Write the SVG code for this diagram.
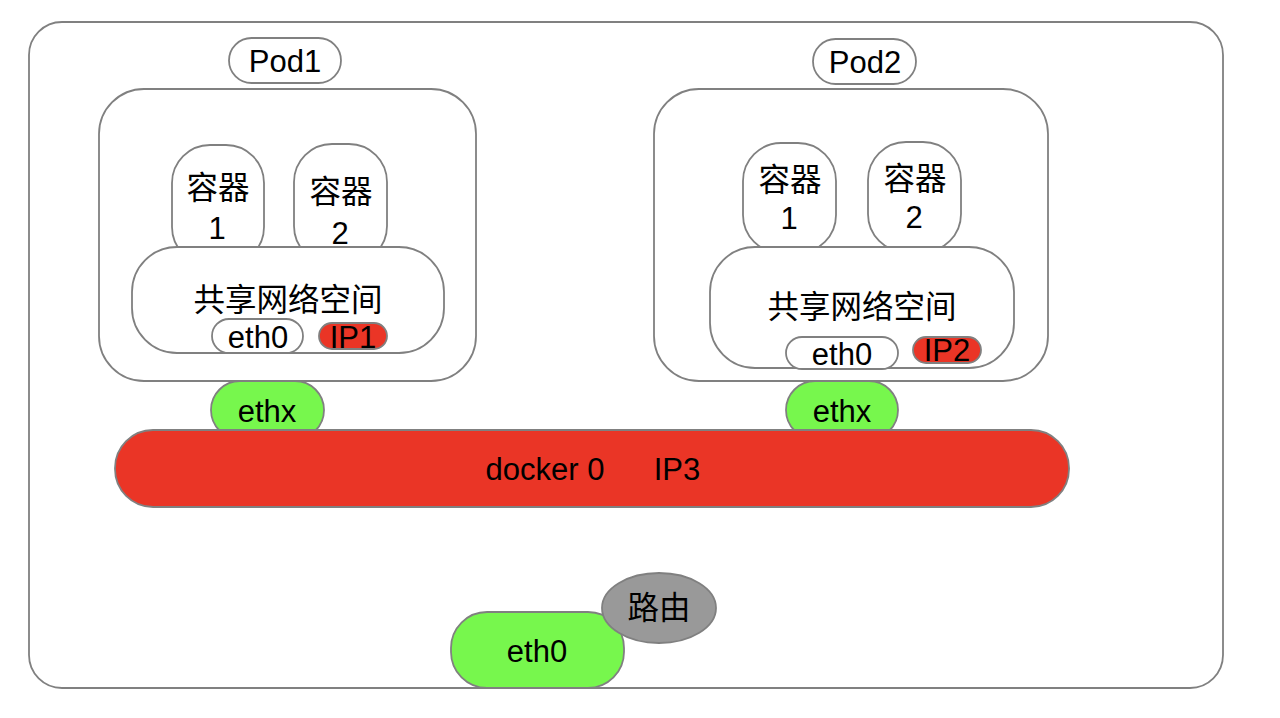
<svg xmlns="http://www.w3.org/2000/svg" width="1280" height="718" viewBox="0 0 1280 718">
<style>
.b{fill:#fff;stroke:#808080;stroke-width:1.8}
.r{fill:#EA3526;stroke:#808080;stroke-width:1.8}
.g{fill:#77F74D;stroke:#808080;stroke-width:1.8}
.gr{fill:#999999;stroke:#808080;stroke-width:1.8}
text{font-family:"Liberation Sans","Noto Sans CJK SC",sans-serif;font-size:31px;fill:#000;text-anchor:middle;dominant-baseline:central}
.cn{font-size:31.5px}
</style>
<rect width="1280" height="718" fill="#fff"/>
<g id="host"><rect class="b" x="29" y="22" width="1194" height="666" rx="33"/></g>
<g id="connectors"></g>
<g id="pod1-label"><rect class="b" x="229" y="38" width="112" height="45" rx="22.5"/><text x="285" y="61">Pod1</text></g>
<g id="pod1">
<rect class="b" x="99" y="89" width="377" height="292" rx="45"/>
<g id="p1c1"><rect class="b" x="172" y="145" width="92" height="120" rx="38"/><text class="cn" x="218" y="188">容器</text><text x="217" y="228">1</text></g>
<g id="p1c2"><rect class="b" x="294" y="144" width="93" height="120" rx="38"/><text class="cn" x="341" y="192">容器</text><text x="340" y="233">2</text></g>
<g id="p1ns"><rect class="b" x="132" y="247" width="312" height="106" rx="45"/><text class="cn" x="288" y="300">共享网络空间</text></g>
<g id="p1eth0"><rect class="b" x="212" y="319" width="91" height="34" rx="17"/><text x="258" y="337">eth0</text></g>
<g id="p1ip"><rect class="r" x="319" y="323" width="68" height="26" rx="13"/><text x="353" y="337">IP1</text></g>
</g>
<g id="pod2-label"><rect class="b" x="813" y="39" width="103" height="45" rx="22.5"/><text x="865" y="62">Pod2</text></g>
<g id="pod2">
<rect class="b" x="654" y="89" width="394" height="292" rx="45"/>
<g id="p2c1"><rect class="b" x="743" y="143" width="93" height="110" rx="38"/><text class="cn" x="790" y="180">容器</text><text x="789" y="218">1</text></g>
<g id="p2c2"><rect class="b" x="868" y="142" width="93" height="110" rx="38"/><text class="cn" x="915" y="179">容器</text><text x="914" y="217">2</text></g>
<g id="p2ns"><rect class="b" x="710" y="247" width="304" height="121" rx="45"/><text class="cn" x="862" y="307">共享网络空间</text></g>
<g id="p2eth0"><rect class="b" x="786" y="337" width="112" height="32" rx="16"/><text x="842" y="354">eth0</text></g>
<g id="p2ip"><rect class="r" x="913" y="337" width="68" height="26" rx="13"/><text x="947" y="350">IP2</text></g>
</g>
<g id="ethx1"><rect class="g" x="211" y="381" width="113" height="58" rx="29"/><text x="267" y="411">ethx</text></g>
<g id="ethx2"><rect class="g" x="786" y="381" width="112" height="58" rx="29"/><text x="842" y="411">ethx</text></g>
<g id="docker0"><rect class="r" x="115" y="430" width="954" height="77" rx="38"/><text x="545" y="469">docker 0</text><text x="677" y="469">IP3</text></g>
<g id="eth0"><rect class="g" x="451" y="612" width="173" height="76" rx="36"/><text x="537" y="651">eth0</text></g>
<g id="route"><ellipse class="gr" cx="659" cy="608" rx="57" ry="35"/><text class="cn" x="659" y="608">路由</text></g>
</svg>
